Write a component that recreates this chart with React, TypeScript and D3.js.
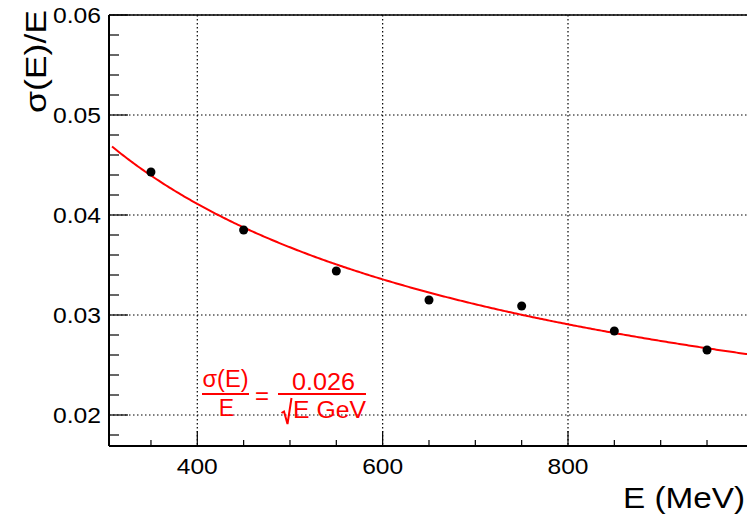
import React from "react";
import * as d3 from "d3";

const energies = [350, 450, 550, 650, 750, 850, 950];
const resolution = [0.0443, 0.0385, 0.0344, 0.0315, 0.0309, 0.0284, 0.0265];
const fitCoeff = 0.026;
const xMajorTicks = [400, 600, 800];
const xMinorTicks = [350, 400, 450, 500, 550, 600, 650, 700, 750, 800, 850, 900, 950];
const yMajorTicks = [0.02, 0.03, 0.04, 0.05, 0.06];
const yMinorTicks = d3.range(9, 31).map((i) => i * 0.002);

const W = 747;
const H = 519;
const FONT = "'Liberation Sans', Arial, Helvetica, sans-serif";

export default function App() {
  const x = d3.scaleLinear().domain([400, 800]).range([197.3, 568]);
  const y = d3.scaleLinear().domain([0.02, 0.06]).range([415, 15]);
  const left = 109;
  const top = 15;
  const bottom = 446;
  const right = x(1000);

  const fitE = d3.range(308, 1001, 2);
  const line = d3
    .line<number>()
    .x((e) => x(e))
    .y((e) => y(fitCoeff / Math.sqrt(e / 1000)))
    .curve(d3.curveLinear);

  const fmtY = d3.format(".2f");

  return (
    <svg
      width={W}
      height={H}
      style={{ position: "fixed", left: 0, top: 0, background: "white" }}
      fontFamily={FONT}
    >
      <rect x={0} y={0} width={W} height={H} fill="white" />
      {/* grid */}
      {xMajorTicks.map((t) => (
        <line key={"gx" + t} x1={x(t)} x2={x(t)} y1={top} y2={bottom} stroke="#000" strokeWidth={1.2} strokeDasharray="1.5 2.5" />
      ))}
      {yMajorTicks.map((t) => (
        <line key={"gy" + t} x1={left} x2={right} y1={y(t)} y2={y(t)} stroke="#000" strokeWidth={1.2} strokeDasharray="1.5 2.5" />
      ))}
      {/* axes */}
      <line x1={left} x2={right} y1={top} y2={top} stroke="#000" strokeWidth={1.5} />
      <line x1={left} x2={left} y1={top} y2={bottom} stroke="#000" strokeWidth={2} />
      <line x1={left} x2={right} y1={bottom} y2={bottom} stroke="#000" strokeWidth={2} />
      {/* x ticks */}
      {xMinorTicks.map((t) => (
        <line key={"xt" + t} x1={x(t)} x2={x(t)} y1={bottom} y2={bottom - (xMajorTicks.includes(t) ? 15 : 6)} stroke="#000" strokeWidth={1.2} />
      ))}
      {xMajorTicks.map((t) => (
        <text key={"xl" + t} x={x(t)} y={474} fontSize={22} textAnchor="middle" textLength={41} lengthAdjust="spacingAndGlyphs">
          {t}
        </text>
      ))}
      {/* y ticks */}
      {yMinorTicks.map((t) => {
        const isMajor = yMajorTicks.some((m) => Math.abs(m - t) < 1e-9);
        return (
          <line key={"yt" + t} x1={left} x2={left + (isMajor ? 19 : 10)} y1={y(t)} y2={y(t)} stroke="#000" strokeWidth={1.2} />
        );
      })}
      {yMajorTicks.map((t) => (
        <text key={"yl" + t} x={101} y={y(t) + 7.5} fontSize={22} textAnchor="end" textLength={48} lengthAdjust="spacingAndGlyphs">
          {fmtY(t)}
        </text>
      ))}
      {/* axis titles */}
      <text transform="translate(46,10) rotate(-90)" fontSize={30} textAnchor="end" textLength={103} lengthAdjust="spacingAndGlyphs">
        σ(E)/E
      </text>
      <text x={745} y={508} fontSize={30} textAnchor="end" textLength={122} lengthAdjust="spacingAndGlyphs">
        E (MeV)
      </text>
      {/* fit */}
      <clipPath id="plotclip">
        <rect x={left} y={top} width={W - left} height={bottom - top} />
      </clipPath>
      <path d={line(fitE) ?? ""} fill="none" stroke="#ff0000" strokeWidth={2} clipPath="url(#plotclip)" />
      {/* data */}
      {energies.map((e, i) => (
        <circle key={"p" + e} cx={x(e)} cy={y(resolution[i])} r={4.5} fill="#000" />
      ))}
      {/* formula */}
      <g fill="#ff0000">
        <text x={225.5} y={387} fontSize={23} textAnchor="middle" textLength={46} lengthAdjust="spacingAndGlyphs">
          σ(E)
        </text>
        <rect x={202} y={393} width={47} height={2} />
        <text x={226.5} y={416} fontSize={23} textAnchor="middle">
          E
        </text>
        <text x={262} y={404} fontSize={24} textAnchor="middle">
          =
        </text>
        <text x={323.5} y={389.5} fontSize={24} textAnchor="middle" textLength={63} lengthAdjust="spacingAndGlyphs">
          0.026
        </text>
        <rect x={278} y={393} width={88} height={2} />
        <path d="M281.5,413 L284,411.5 L287.5,424 L291.5,398" fill="none" stroke="#ff0000" strokeWidth={2} />
        <text x={293} y={418} fontSize={23} textLength={73} lengthAdjust="spacingAndGlyphs">
          E GeV
        </text>
      </g>
    </svg>
  );
}
